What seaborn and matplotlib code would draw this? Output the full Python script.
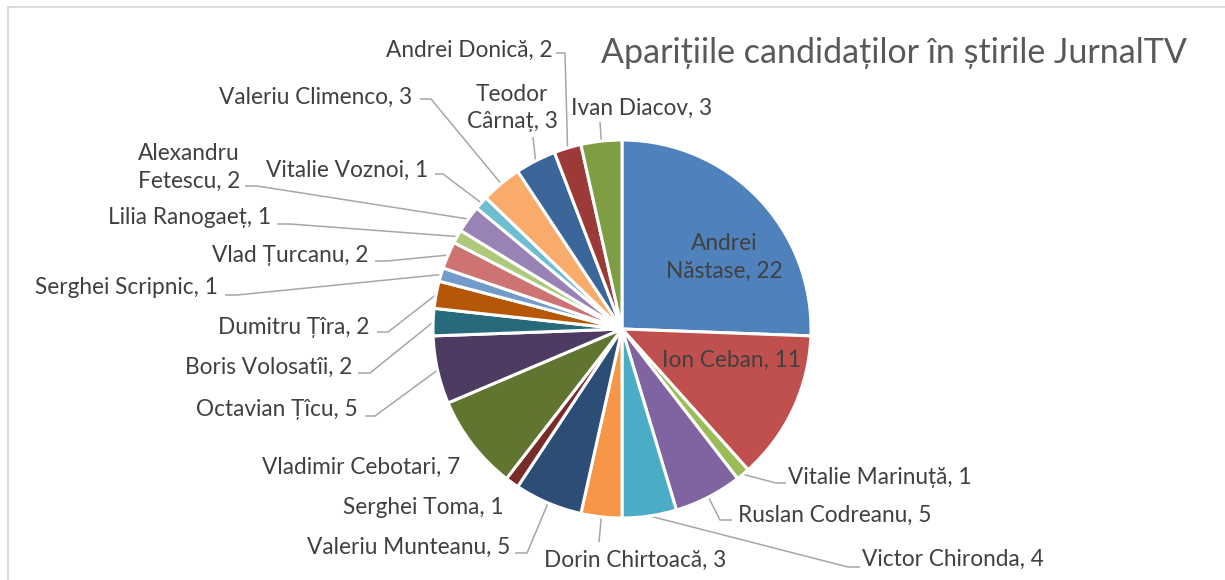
import matplotlib
matplotlib.use("Agg")
import matplotlib.pyplot as plt
import numpy as np
import seaborn as sns

# data, clockwise from 12 o'clock
candidates = [
    "Andrei\nNăstase", "Ion Ceban", "Vitalie Marinuță", "Ruslan Codreanu", "Victor Chironda",
    "Dorin Chirtoacă", "Valeriu Munteanu", "Serghei Toma", "Vladimir Cebotari", "Octavian Țîcu",
    "Boris Volosatîi", "Dumitru Țîra", "Serghei Scripnic", "Vlad Țurcanu", "Lilia Ranogaeț",
    "Alexandru\nFetescu", "Vitalie Voznoi", "Valeriu Climenco", "Teodor\nCârnaț", "Andrei Donică",
    "Ivan Diacov",
]
appearances = [22, 11, 1, 5, 4, 3, 5, 1, 7, 5, 2, 2, 1, 2, 1, 2, 1, 3, 3, 2, 3]
slice_colors = [
    "#4F81BD", "#C0504D", "#9BBB59", "#8064A2", "#4BACC6", "#F79646",
    "#2C4D75", "#772C2A", "#5F7530", "#4D3B62", "#276A7C", "#B65708",
    "#729ACA", "#CD7371", "#AFC97A", "#9983B5", "#6FBDD1", "#F9AB6B",
    "#3A6699", "#9C3A37", "#7F9D43",
]
title = "Aparițiile candidaților în știrile JurnalTV"

# layout (pixel coords, y downwards): text position, alignment, leader start, leader elbow
label_layout = [
    ((724, 257), "center", None, None),
    ((732, 360), "center", None, None),
    ((788, 477), "left", (786, 483), (776, 483)),
    ((738, 515), "left", (732, 520), (720, 520)),
    ((862, 559), "left", (860, 567), (848, 567)),
    ((544, 560), "left", (599, 542), None),
    ((510, 547), "right", (515, 553), (527, 553)),
    ((504, 508), "right", None, None),
    ((460, 467), "right", None, None),
    ((358, 410), "right", (365, 416), (375, 416)),
    ((352, 367), "right", (358, 373), (370, 373)),
    ((370, 327), "right", (377, 332), (388, 332)),
    ((218, 288), "right", (225, 295), (237, 295)),
    ((369, 255), "right", (375, 261), (387, 261)),
    ((271, 218), "right", (277, 224), (290, 224)),
    ((189, 167), "center", (245, 186), (257, 186)),
    ((428, 170), "right", (435, 174), (443, 174)),
    ((412, 97), "right", (420, 99), (431, 99)),
    ((512, 108), "center", (533, 137), None),
    ((553, 50), "right", (556, 53), (565, 53)),
    ((571, 108), "left", (600, 122), None),
]

W, H = 1225, 580
CX, CY, R = 622, 329, 189
TEXT_COLOR = "#404040"
LEADER_COLOR = "#A6A6A6"

sns.set_theme(style="white")
plt.rcParams["font.family"] = ["Lato", "DejaVu Sans"]


def px(x, y):
    return x, H - y


fig = plt.figure(figsize=(W / 100, H / 100), dpi=100)
ax = fig.add_axes([0, 0, 1, 1])

wedges, _ = ax.pie(
    appearances,
    colors=sns.color_palette(slice_colors),
    startangle=90,
    counterclock=False,
    center=px(CX, CY),
    radius=R,
    wedgeprops=dict(edgecolor="white", linewidth=2.2),
)
ax.set_xlim(0, W)
ax.set_ylim(0, H)
ax.set_aspect("equal")
ax.axis("off")

for wedge, name, value, (pos, ha, start, elbow) in zip(wedges, candidates, appearances, label_layout):
    ax.text(*px(*pos), f"{name}, {value}", ha=ha, va="center", fontsize=16.3,
            color=TEXT_COLOR, multialignment="center", linespacing=1.4)
    if start is None:
        continue
    mid = np.deg2rad((wedge.theta1 + wedge.theta2) / 2)
    cx, cy = wedge.center
    anchor = (cx + R * np.cos(mid), cy + R * np.sin(mid))
    pts = [px(*start)] + ([px(*elbow)] if elbow else []) + [anchor]
    xs, ys = zip(*pts)
    ax.plot(xs, ys, color=LEADER_COLOR, linewidth=1.1, solid_capstyle="butt", zorder=0)

ax.text(*px(894, 53), title, ha="center", va="center", fontsize=24.5, color="#595959")

# chart area border (only top and left edges fall inside the crop)
ax.plot([8, 8, W], [0, H - 7, H - 7], color="#D9D9D9", linewidth=1.3, clip_on=False)

fig.savefig("out.png", dpi=100)
